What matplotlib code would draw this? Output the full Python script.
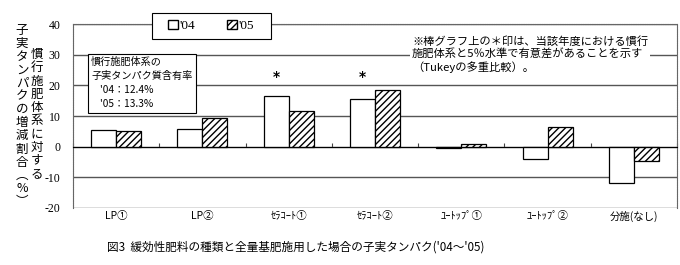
import matplotlib
matplotlib.use("Agg")
import matplotlib.pyplot as plt
import matplotlib.transforms as mtransforms
from matplotlib.patches import Patch, Rectangle
import numpy as np

plt.rcParams['font.family'] = ['Noto Sans CJK JP', 'DejaVu Sans']
plt.rcParams['hatch.linewidth'] = 1.0

categories = ["LP①", "LP②", "ｾﾗｺｰﾄ①", "ｾﾗｺｰﾄ②", "ﾕｰﾄｯﾌﾟ①", "ﾕｰﾄｯﾌﾟ②", "分施(なし)"]
vals_04 = [5.3, 5.8, 16.5, 15.6, -0.3, -4.1, -11.9]
vals_05 = [5.2, 9.5, 11.5, 18.5, 0.8, 6.3, -4.8]
signif_04 = [False, False, True, True, False, False, False]
yticks = [-20, -10, 0, 10, 20, 30, 40]

fig = plt.figure(figsize=(6.8, 2.65), dpi=100)
ax = fig.add_axes([73/680, 1 - 208/265, 604/680, 184/265])

x = np.arange(len(categories))
w = 0.29
ax.bar(x - w/2, vals_04, width=w, color='white', edgecolor='black', linewidth=0.9, zorder=3)
ax.bar(x + w/2, vals_05, width=w, color='white', edgecolor='black', linewidth=0.9,
       hatch='/////', zorder=3)

for i, s in enumerate(signif_04):
    if s:
        ax.text(x[i] - w/2, 22.7, "*", ha='center', va='center', fontsize=10,
                fontweight='bold', family='DejaVu Sans')

ax.set_xlim(-0.5, len(categories) - 0.5)
ax.set_ylim(-20, 40)
ax.set_yticks(yticks)
ax.set_yticklabels([str(v) for v in yticks], family='Liberation Serif', fontsize=8.5)
ax.tick_params(axis='y', length=0, pad=9)
ax.yaxis.grid(True, color='#555555', linewidth=1.0, zorder=0)

ax.spines['bottom'].set_position(('data', 0))
ax.spines['bottom'].set_color('black')
ax.spines['bottom'].set_zorder(4)
for s in ['left', 'right', 'top']:
    ax.spines[s].set_color('#666666')
    ax.spines[s].set_linestyle((0, (1, 0.6)))
ax.set_xticks(np.arange(len(categories) + 1) - 0.5)
ax.set_xticklabels([])
ax.tick_params(axis='x', direction='in', length=3, color='#444444')

trans = mtransforms.blended_transform_factory(ax.transData, ax.transAxes)
for i, c in enumerate(categories):
    ax.text(x[i], -0.045, c, transform=trans, ha='center', va='center', fontsize=7.5)

# legend box
fig.patches.append(Rectangle((152/680, 1 - 39/265), 119/680, 26/265, transform=fig.transFigure,
                             facecolor='white', edgecolor='black', linewidth=0.8, zorder=5))
handles = [Patch(facecolor='white', edgecolor='black', label="'04"),
           Patch(facecolor='white', edgecolor='black', hatch='/////', label="'05")]
leg = fig.legend(handles=handles, loc='center', bbox_to_anchor=(211/680, 1 - 26/265),
                 ncol=2, frameon=False, handlelength=0.75, handleheight=0.75,
                 handletextpad=0.15, columnspacing=2.4,
                 prop={'family': 'Liberation Serif', 'size': 9.5})
leg.set_zorder(6)

# inset box
fig.text(91/680, 1 - 57/265,
         "慣行施肥体系の\n子実タンパク質含有率\n    '04：12.4%\n    '05：13.3%",
         ha='left', va='top', fontsize=7.3, linespacing=1.5,
         bbox=dict(facecolor='white', edgecolor='black', linewidth=0.8, pad=2.5))

# note
fig.text(412/680, 1 - 36/265,
         "※棒グラフ上の＊印は、当該年度における慣行\n施肥体系と5％水準で有意差があることを示す\n（Tukeyの多重比較）。",
         ha='left', va='top', fontsize=8.1, linespacing=1.2,
         bbox=dict(facecolor='white', edgecolor='none', pad=1.5))

# vertical y labels
col1 = list("子実タンパクの増減割合") + ["︵", "%", "︶"]
col2 = list("慣行施肥体系に対する")
fig.text(22/680, 1 - 116/265, "\n".join(col1), ha='center', va='center', fontsize=9, linespacing=1.02)
fig.text(37/680, 1 - 114/265, "\n".join(col2), ha='center', va='center', fontsize=9, linespacing=1.02)

fig.text(107/680, 1 - 247/265, "図3  緩効性肥料の種類と全量基肥施用した場合の子実タンパク('04～'05)",
         ha='left', va='center', fontsize=8.4)

fig.savefig("out.png", dpi=100)
